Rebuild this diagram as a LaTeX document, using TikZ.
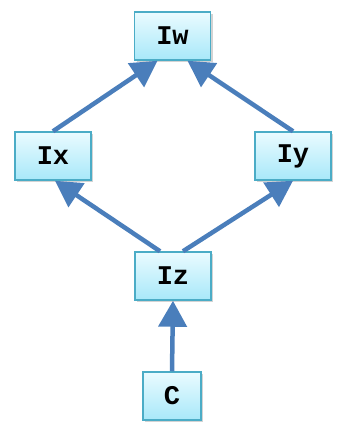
\documentclass[tikz,border=0pt]{standalone}
\usepackage{fontspec}
\setmonofont{Liberation Mono}
\usetikzlibrary{arrows.meta,shadows}
\definecolor{boxborder}{HTML}{4BACC6}
\definecolor{boxtop}{HTML}{EAFBFF}
\definecolor{boxbot}{HTML}{A8E8F9}
\definecolor{arrowblue}{HTML}{4A7EBB}
\tikzset{
  cls/.style={draw=boxborder, line width=1.5pt, top color=boxtop, bottom color=boxbot,
    minimum width=76pt, minimum height=48pt, inner sep=0pt,
    font=\ttfamily\bfseries\fontsize{27}{29}\selectfont,
    drop shadow={opacity=0.35, shadow xshift=2pt, shadow yshift=-2pt}},
  inh/.style={draw=arrowblue, line width=4.5pt,
    -{Triangle[width=28pt,length=26pt]}}
}
\begin{document}
\begin{tikzpicture}[x=1pt,y=-1pt]
\useasboundingbox (0,0) rectangle (344,432);
\node[cls] (Iw) at (172.5,36) {Iw};
\node[cls] (Ix) at (53,156) {Ix};
\node[cls] (Iy) at (293,156) {Iy};
\node[cls] (Iz) at (173,276) {Iz};
\node[cls, minimum width=58pt] (C) at (172,396) {C};
\draw[inh] (C.north) -- (Iz.south);
\draw[inh] ([xshift=-13pt]Iz.north) -- ([xshift=2pt]Ix.south);
\draw[inh] ([xshift=10pt]Iz.north) -- (Iy.south);
\draw[inh] (Ix.north) -- ([xshift=-15pt]Iw.south);
\draw[inh] (Iy.north) -- ([xshift=15pt]Iw.south);
\end{tikzpicture}
\end{document}
